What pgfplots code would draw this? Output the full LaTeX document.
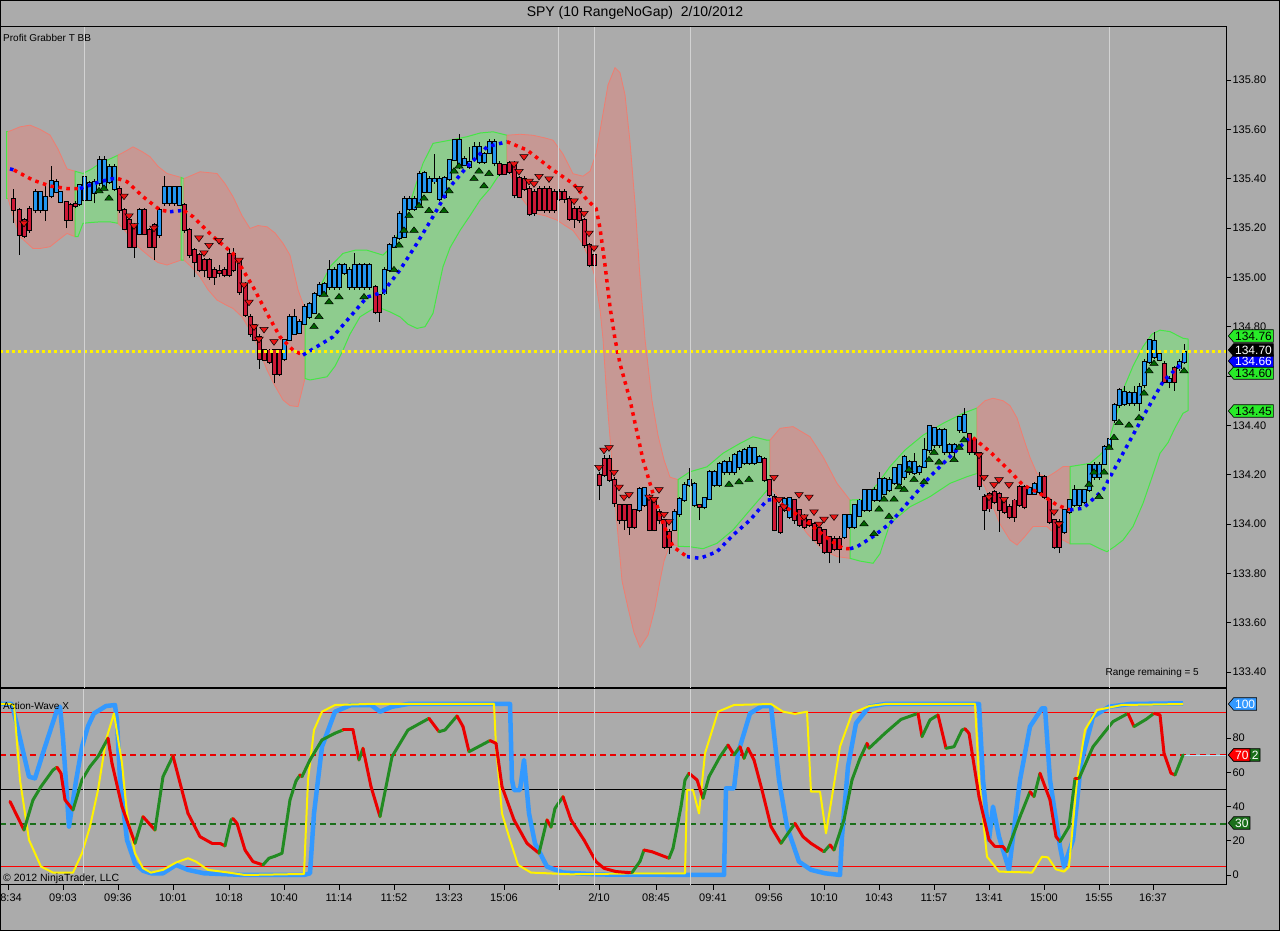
\documentclass[border=0pt]{standalone}
\usepackage{pgfplots}
\pgfplotsset{compat=1.18}
\usepackage{pgfplotstable}
\usepackage{fontspec}
\setmainfont{Liberation Sans}
\usetikzlibrary{shapes.symbols}

\definecolor{bg}{RGB}{171,171,171}
\definecolor{cblue}{RGB}{35,150,240}
\definecolor{cred}{RGB}{205,25,55}
\definecolor{bandR}{RGB}{198,152,148}
\definecolor{bandRe}{RGB}{240,125,112}
\definecolor{bandG}{RGB}{142,204,142}
\definecolor{bandGe}{RGB}{70,230,70}
\definecolor{tgreen}{RGB}{0,100,0}
\definecolor{tred}{RGB}{235,20,20}
\definecolor{wblue}{RGB}{51,153,255}
\definecolor{wgreen}{RGB}{34,139,34}
\definecolor{wred}{RGB}{235,0,0}
\definecolor{gridc}{RGB}{210,210,210}
\definecolor{tagG}{RGB}{40,235,40}

\tikzset{
  tag/.style={signal, signal to=west, signal pointer angle=100, draw=black, line width=0.6pt,
    inner xsep=1.5pt, inner ysep=0.5pt, minimum height=12.5pt, font=\fontsize{12}{13}\selectfont, anchor=west},
}

% x o h l c u  (u=1 up/blue, u=0 down/red)
\pgfplotstableread{
x o h l c u
13 135.320 135.36 135.22 135.273 0
19 135.273 135.28 135.09 135.171 0
24 135.232 135.24 135.16 135.171 0
29 135.279 135.29 135.18 135.192 0
35 135.273 135.36 135.26 135.347 1
40 135.273 135.35 135.26 135.347 1
45 135.273 135.37 135.23 135.327 1
51 135.333 135.45 135.32 135.394 1
56 135.347 135.40 135.34 135.388 1
60 135.306 135.35 135.30 135.347 1
66 135.306 135.31 135.20 135.232 0
70 135.293 135.30 135.23 135.232 0
75 135.300 135.31 135.28 135.290 0
79 135.300 135.38 135.29 135.374 1
84 135.313 135.42 135.30 135.408 1
89 135.313 135.39 135.31 135.381 1
94 135.340 135.40 135.30 135.388 1
99 135.381 135.49 135.37 135.475 1
104 135.367 135.49 135.36 135.475 1
109 135.388 135.46 135.38 135.448 1
114 135.360 135.46 135.35 135.448 1
119 135.360 135.37 135.26 135.273 0
124 135.273 135.28 135.19 135.198 0
129 135.232 135.24 135.12 135.124 0
134 135.212 135.22 135.08 135.124 0
139 135.178 135.28 135.17 135.273 1
144 135.273 135.28 135.17 135.178 0
149 135.192 135.20 135.12 135.124 0
154 135.212 135.22 135.07 135.124 0
159 135.171 135.28 135.16 135.273 1
164 135.300 135.41 135.29 135.367 1
169 135.300 135.37 135.29 135.367 1
174 135.300 135.37 135.29 135.367 1
179 135.293 135.37 135.29 135.367 1
184 135.293 135.30 135.18 135.192 0
189 135.192 135.20 135.08 135.090 0
194 135.111 135.12 135.00 135.063 0
199 135.090 135.10 135.02 135.030 0
204 135.070 135.08 135.00 135.030 0
209 135.070 135.08 134.99 135.002 0
214 135.030 135.04 134.97 135.002 0
219 135.028 135.05 135.00 135.018 0
224 135.030 135.04 135.00 135.009 0
229 135.097 135.12 135.00 135.009 0
233 135.097 135.12 135.02 135.030 0
239 135.077 135.08 134.93 134.942 0
245 134.975 134.98 134.84 134.847 0
250 134.840 134.85 134.76 134.773 0
254 134.806 134.81 134.74 134.746 0
259 134.759 134.77 134.63 134.671 0
264 134.705 134.71 134.66 134.665 0
269 134.705 134.71 134.65 134.658 0
274 134.705 134.71 134.57 134.611 0
279 134.705 134.71 134.60 134.611 0
284 134.671 134.75 134.66 134.746 1
289 134.746 134.85 134.74 134.840 1
294 134.773 134.87 134.77 134.840 1
299 134.773 134.83 134.77 134.820 1
304 134.813 134.89 134.81 134.881 1
309 134.840 134.90 134.83 134.890 1
314 134.854 134.94 134.85 134.935 1
319 134.928 134.98 134.92 134.969 1
324 134.935 134.98 134.93 134.975 1
329 134.962 135.07 134.95 135.030 1
334 134.962 135.04 134.95 135.030 1
339 134.962 135.06 134.95 135.050 1
344 135.016 135.06 135.01 135.050 1
349 134.962 135.04 134.95 135.030 1
354 134.962 135.10 134.95 135.050 1
359 134.962 135.06 134.95 135.050 1
364 134.962 135.06 134.95 135.050 1
369 134.962 135.06 134.95 135.050 1
375 134.962 134.97 134.85 134.861 0
379 134.928 134.93 134.82 134.861 0
384 134.935 135.04 134.93 135.030 1
389 135.030 135.14 135.02 135.131 1
394 135.124 135.17 135.12 135.158 1
399 135.158 135.27 135.15 135.259 1
404 135.165 135.33 135.16 135.320 1
409 135.279 135.33 135.27 135.320 1
414 135.279 135.33 135.27 135.320 1
419 135.300 135.43 135.29 135.421 1
424 135.347 135.43 135.34 135.421 1
429 135.347 135.41 135.34 135.401 1
434 135.390 135.50 135.38 135.401 1
439 135.320 135.41 135.31 135.401 1
444 135.327 135.41 135.32 135.401 1
449 135.401 135.48 135.39 135.475 1
454 135.475 135.56 135.47 135.556 1
459 135.448 135.58 135.44 135.556 1
464 135.455 135.49 135.45 135.482 1
469 135.448 135.53 135.44 135.469 1
474 135.482 135.55 135.47 135.529 1
479 135.469 135.55 135.46 135.529 1
484 135.469 135.51 135.46 135.502 1
489 135.502 135.56 135.50 135.550 1
494 135.462 135.56 135.45 135.550 1
499 135.462 135.47 135.41 135.421 0
504 135.455 135.46 135.42 135.421 0
509 135.462 135.47 135.42 135.428 0
514 135.462 135.47 135.32 135.333 0
519 135.401 135.41 135.32 135.327 0
524 135.401 135.41 135.35 135.360 0
529 135.360 135.37 135.25 135.259 0
534 135.347 135.36 135.25 135.259 0
539 135.360 135.37 135.27 135.273 0
544 135.360 135.37 135.26 135.273 0
549 135.360 135.37 135.26 135.273 0
554 135.347 135.36 135.26 135.273 0
559 135.347 135.36 135.31 135.320 0
564 135.347 135.36 135.30 135.320 0
569 135.320 135.33 135.23 135.239 0
574 135.279 135.29 135.20 135.239 0
579 135.279 135.29 135.22 135.232 0
584 135.232 135.24 135.12 135.131 0
589 135.131 135.14 135.04 135.050 0
594 135.090 135.10 135.02 135.050 0
599 134.199 134.21 134.097 134.158 0
604 134.266 134.28 134.19 134.199 0
609 134.266 134.28 134.17 134.178 0
614 134.178 134.19 134.07 134.084 0
619 134.077 134.08 134.00 134.016 0
624 134.077 134.08 133.976 134.016 0
629 134.077 134.08 133.955 133.989 0
634 134.057 134.06 133.98 133.989 0
639 134.057 134.15 134.05 134.145 1
644 134.077 134.15 134.07 134.145 1
649 134.111 134.12 133.97 133.976 0
654 134.097 134.10 133.97 133.976 0
659 134.050 134.06 134.00 134.016 0
664 134.016 134.02 133.90 133.908 0
669 133.969 133.98 133.88 133.908 0
674 133.976 134.06 133.97 134.050 1
679 134.043 134.11 134.03 134.104 1
684 134.097 134.17 134.09 134.158 1
689 134.158 134.226 134.15 134.178 1
694 134.077 134.17 134.07 134.165 1
699 134.077 134.08 134.016 134.070 0
704 134.070 134.11 134.06 134.104 1
709 134.104 134.22 134.10 134.212 1
714 134.158 134.22 134.15 134.212 1
719 134.158 134.25 134.15 134.246 1
724 134.212 134.26 134.20 134.253 1
729 134.212 134.27 134.20 134.253 1
734 134.212 134.29 134.20 134.280 1
739 134.232 134.30 134.22 134.293 1
744 134.246 134.31 134.24 134.300 1
749 134.246 134.32 134.24 134.307 1
754 134.246 134.31 134.24 134.307 1
759 134.253 134.28 134.25 134.273 1
764 134.266 134.27 134.17 134.178 0
769 134.178 134.18 134.11 134.118 0
774 134.111 134.12 133.97 133.976 0
780 134.070 134.08 133.96 133.969 0
784 134.057 134.11 134.05 134.104 1
789 134.030 134.11 134.02 134.104 1
794 134.097 134.10 134.00 134.016 0
799 134.057 134.06 133.99 133.996 0
804 134.030 134.04 133.98 133.989 0
809 134.016 134.02 133.99 133.996 0
814 134.003 134.01 133.93 133.935 0
819 133.983 133.99 133.91 133.922 0
824 133.976 133.98 133.88 133.888 0
829 133.949 133.95 133.841 133.888 0
834 133.942 133.95 133.89 133.901 0
839 133.942 133.95 133.841 133.901 0
844 133.949 134.04 133.94 134.036 1
849 133.989 134.04 133.98 134.036 1
854 133.989 134.08 133.98 134.077 1
859 134.036 134.10 134.03 134.097 1
864 134.057 134.14 134.05 134.138 1
869 134.057 134.14 134.05 134.138 1
874 134.097 134.15 134.09 134.138 1
879 134.097 134.21 134.09 134.185 1
884 134.124 134.19 134.12 134.185 1
889 134.138 134.19 134.13 134.178 1
894 134.165 134.23 134.16 134.226 1
899 134.165 134.24 134.16 134.239 1
904 134.192 134.28 134.18 134.273 1
909 134.212 134.26 134.20 134.253 1
914 134.205 134.29 134.20 134.253 1
919 134.212 134.24 134.20 134.233 1
924 134.233 134.35 134.23 134.300 1
929 134.300 134.40 134.29 134.395 1
934 134.320 134.39 134.31 134.388 1
939 134.320 134.39 134.31 134.381 1
944 134.293 134.39 134.28 134.381 1
949 134.293 134.33 134.28 134.320 1
954 134.293 134.33 134.26 134.320 1
959 134.381 134.44 134.37 134.435 1
964 134.374 134.47 134.37 134.442 1
969 134.368 134.37 134.28 134.293 0
974 134.341 134.35 134.28 134.293 0
979 134.287 134.29 134.14 134.152 0
984 134.111 134.12 133.976 134.057 0
989 134.124 134.13 134.05 134.064 0
994 134.131 134.14 134.08 134.091 0
999 134.124 134.13 133.969 134.057 0
1004 134.097 134.10 134.04 134.050 0
1009 134.070 134.08 134.02 134.030 0
1014 134.097 134.10 134.01 134.030 0
1019 134.152 134.16 134.07 134.077 0
1024 134.152 134.16 134.06 134.070 0
1029 134.124 134.15 134.12 134.145 1
1034 134.124 134.17 134.12 134.165 1
1039 134.131 134.21 134.12 134.192 1
1044 134.192 134.20 134.10 134.111 0
1049 134.097 134.10 134.00 134.010 0
1054 134.016 134.02 133.90 133.908 0
1059 134.010 134.02 133.881 133.908 0
1064 133.969 134.06 133.96 134.057 1
1069 134.050 134.10 134.04 134.097 1
1074 134.077 134.16 134.07 134.138 1
1079 134.077 134.14 134.07 134.138 1
1084 134.091 134.14 134.08 134.138 1
1089 134.138 134.24 134.13 134.239 1
1094 134.192 134.25 134.18 134.239 1
1099 134.192 134.25 134.18 134.239 1
1104 134.246 134.32 134.24 134.314 1
1109 134.314 134.35 134.30 134.347 1
1114 134.422 134.49 134.41 134.482 1
1119 134.482 134.55 134.47 134.543 1
1124 134.489 134.56 134.48 134.536 1
1129 134.489 134.54 134.48 134.530 1
1134 134.489 134.56 134.48 134.530 1
1139 134.489 134.57 134.46 134.557 1
1144 134.563 134.67 134.55 134.658 1
1149 134.658 134.75 134.65 134.746 1
1154 134.678 134.78 134.67 134.746 1
1159 134.665 134.70 134.66 134.692 1
1164 134.651 134.66 134.57 134.577 0
1169 134.577 134.60 134.55 134.591 1
1174 134.631 134.64 134.54 134.577 0
1179 134.631 134.67 134.62 134.658 1
1184 134.658 134.73 134.65 134.699 1
}\candles

\pgfplotstableread{
x y
99 135.35
104 135.36
109 135.32
314 134.80
319 134.84
324 134.93
329 134.90
339 134.92
364 134.92
394 135.03
399 135.13
404 135.19
409 135.25
414 135.19
419 135.29
424 135.32
429 135.27
444 135.27
449 135.35
454 135.43
459 135.45
474 135.40
479 135.43
484 135.37
489 135.42
729 134.16
739 134.17
749 134.18
864 134.00
874 133.96
879 134.06
884 134.10
889 134.03
894 134.10
899 134.15
904 134.14
909 134.22
914 134.18
924 134.17
929 134.26
934 134.29
939 134.25
954 134.26
959 134.31
964 134.34
1089 134.16
1094 134.21
1099 134.11
1104 134.21
1109 134.31
1114 134.35
1119 134.41
1129 134.40
1139 134.43
1144 134.53
1149 134.62
1154 134.65
1184 134.62
}\gtri

\pgfplotstableread{
x y
24 135.22
124 135.33
129 135.25
134 135.21
154 135.20
199 135.16
204 135.10
209 135.13
219 135.15
239 135.07
244 134.97
249 134.90
254 134.80
259 134.75
264 134.79
274 134.74
514 135.46
519 135.43
524 135.49
529 135.39
534 135.38
539 135.41
549 135.40
574 135.31
579 135.36
584 135.26
589 135.18
594 135.12
599 134.23
604 134.30
609 134.31
614 134.21
619 134.15
624 134.11
629 134.12
649 134.11
654 134.10
659 134.14
664 134.04
669 134.01
774 134.19
779 134.10
784 134.07
799 134.12
804 134.03
809 134.11
814 134.05
819 134.00
824 134.02
834 134.03
979 134.28
984 134.19
989 134.11
994 134.16
999 134.18
1004 134.10
1009 134.16
1054 134.05
1059 134.00
}\rtri

\pgfplotstableread{
x y
0 100
12 100
20 80
29 57.5
35 56.5
45 75
57 96.5
60 98.4
63 80
69 28.3
71 36
76 55
82 75
88 87
94 94.5
106 98.8
115 99.4
117 90
120 55.6
127 20.5
135 6.8
143 2.5
151 1
163 1
176 5.9
188 3
204 1
245 0
304 0
310 1
314 36
322 75
335 95.5
351 99.4
371 99.4
380 95.5
392 98.4
408 100
510 100
512 55.6
514 49.7
520 49.7
524 67.3
529 36
535 18.5
547 4.9
563 1.4
600 0.3
724 0
726 50.7
734 50.7
738 71.2
750 94.5
762 98.8
771 98.8
779 55.6
787 28.3
799 7.8
811 3
825 1
840 0
842 22.4
848 63.4
856 88.7
869 98.4
885 100
979 100
983 55.6
989 20.5
993 40
999 22.4
1009 3
1020 55.6
1030 86.8
1042 97.5
1045 97.5
1050 55.6
1060 16.6
1064 4.9
1073 20.5
1081 65.3
1093 92.6
1109 98.4
1130 100
1183 100.4
}\wblueT

\pgfplotstableread{
x y
0 100
10 100
14 99.4
20 55.6
29 20.5
41 4.9
53 1.4
73 1.4
82 12.7
90 28.3
98 49.7
106 79
114 94.5
122 65.3
127 36
135 12.7
143 4
151 1.4
163 3
176 7.3
188 9.8
196 7.8
208 3
229 1.4
245 0
304 0.6
308 55.6
314 84.8
322 95.5
335 99.4
367 100
494 100
496 75
502 36
510 20.5
518 5.9
531 1.4
571 0.4
640 1
685 1
687 49.7
693 49.7
699 36
705 71.2
718 95.5
734 99.4
771 100
783 95.5
795 94.2
807 95.5
811 48.7
820 48.7
826 24.4
832 45.8
840 75
852 94.5
869 98.8
885 100
975 100
979 55.6
987 10.7
999 2
1032 1.4
1042 10.7
1048 10.3
1056 3.3
1064 2
1069 4.9
1077 55.6
1085 84.8
1097 96.5
1122 99.4
1183 100
}\wyelT

\pgfplotstableread{
x y m
10 43 1
24 26.3 1
24 26.3 0
33 43.9 0
41 51.7 0
53 61.4 0
57 63 0
57 63 1
61 59.5 1
65 43.9 1
73 38 1
73 38 0
82 55.6 0
90 63.4 0
98 69.2 0
108 80 0
108 80 1
112 65.3 1
122 40 1
135 18.5 1
135 18.5 0
143 34.1 0
143 34.1 1
155 26.3 1
155 26.3 0
163 57.5 0
173 69.6 0
173 69.6 1
188 36 1
200 22.4 1
212 18.5 1
220 18.5 1
225 17 1
225 17 0
231 32.2 0
233 33 0
233 33 1
237 30.2 1
245 14.6 1
253 7.8 1
263 5.9 1
263 5.9 0
269 9.8 0
275 11 0
282 12.7 0
290 43.9 0
296 55 0
300 58.5 0
300 58.5 1
302 57.5 1
302 57.5 0
310 67.3 0
322 79 0
335 82.9 0
343 84.8 0
343 84.8 1
353 84.8 1
359 67.3 1
359 67.3 0
363 74.1 0
363 74.1 1
371 51.7 1
380 34.1 1
380 34.1 0
392 69.2 0
408 84.8 0
429 91.6 0
429 91.6 1
439 83.8 1
439 83.8 0
445 84.8 0
457 93 0
457 93 1
463 86.8 1
469 72.1 1
469 72.1 0
490 78.6 0
490 78.6 1
496 77 1
502 51.7 1
514 32.2 1
527 18.5 1
539 12.7 1
539 12.7 0
547 32.2 0
547 32.2 1
551 28 1
551 28 0
555 39 0
563 45.8 0
563 45.8 1
571 32.2 1
584 20.5 1
596 7.8 1
604 3.9 1
616 2 1
629 1.4 1
632 1.4 1
632 1.4 0
640 8 0
644 14.6 0
644 14.6 1
652 13.6 1
669 9.8 1
669 9.8 0
673 15.6 0
681 40 0
685 55.6 0
689 59.5 0
689 59.5 1
697 55.6 1
703 44.8 1
703 44.8 0
709 57.5 0
720 69.2 0
728 76 0
728 76 1
734 70.2 1
734 70.2 0
740 75 0
740 75 1
744 68.2 1
744 68.2 0
748 74.1 0
748 74.1 1
754 67.3 1
762 49.7 1
771 28.3 1
781 18.5 1
781 18.5 0
795 30.2 0
795 30.2 1
803 22.4 1
811 18.5 1
824 13.6 1
824 13.6 0
830 17.6 0
830 17.6 1
834 14.6 1
834 14.6 0
844 32.2 0
852 55.6 0
860 68.2 0
867 77 0
867 77 1
869 74.1 1
869 74.1 0
885 82.9 0
901 91 0
918 94.5 0
918 94.5 1
922 80.9 1
922 80.9 0
930 90.7 0
938 93.6 0
938 93.6 1
946 74.1 1
946 74.1 0
954 75 0
962 84.8 0
965 85.5 0
965 85.5 1
969 82.9 1
979 45.8 1
989 20.5 1
995 16.6 1
1003 16.6 1
1007 13.6 1
1007 13.6 0
1020 34.1 0
1030 48.7 0
1030 48.7 1
1034 45.8 1
1034 45.8 0
1040 59.5 0
1040 59.5 1
1050 43.9 1
1056 22.4 1
1060 19.5 1
1060 19.5 0
1069 28.3 0
1075 56.5 0
1075 56.5 1
1079 56.5 1
1079 56.5 0
1093 75 0
1113 89.7 0
1128 94.5 0
1128 94.5 1
1134 86.8 1
1134 86.8 0
1146 91 0
1154 94.5 0
1154 94.5 1
1160 93.6 1
1164 71.2 1
1171 59.5 1
1175 58.5 1
1175 58.5 0
1183 70.2 0
}\wgrT

\begin{document}
\begin{tikzpicture}[x=1pt,y=1pt]
\fill[bg] (0,0) rectangle (1280,931);

%================ upper panel =================
\begin{axis}[
  at={(0pt,243pt)}, anchor=south west, width=1226pt, height=661pt, scale only axis,
  xmin=0, xmax=1226, ymin=133.3355, ymax=136.0148,
  axis background/.style={fill=bg},
  axis line style={black, line width=1pt},
  axis on top,
  xtick=\empty,
  extra x ticks={84,558,594,690,1109},
  extra x tick labels={},
  extra x tick style={grid=major, major tick length=0pt, major grid style={gridc, line width=1pt}},
  ytick={133.4,133.6,133.8,134.0,134.2,134.4,134.6,134.8,135.0,135.2,135.4,135.6,135.8},
  yticklabels={133.40,133.60,133.80,134.00,134.20,134.40,134.60,134.80,135.00,135.20,135.40,135.60,135.80},
  ytick pos=right, yticklabel pos=right, tick align=outside, major tick length=5pt,
  tick style={black, line width=0.8pt},
  yticklabel style={font=\fontsize{11}{12}\selectfont, xshift=-2pt},
]
% bands
\addplot[fill=bandG, draw=bandGe, line width=1pt] coordinates {(6,135.59) (8,135.59) (8,135.32) (6,135.32)} -- cycle;
\addplot[fill=bandR, draw=bandRe, line width=0.8pt] coordinates {
 (8,135.59) (20,135.61) (30,135.617) (40,135.60) (50,135.577) (58,135.52) (67,135.44) (75,135.43)
 (75,135.165) (67,135.178) (58,135.15) (50,135.124) (40,135.117) (33,135.117) (20,135.165) (13,135.25) (8,135.32)} -- cycle;
\addplot[fill=bandG, draw=bandGe, line width=1pt] coordinates {
 (75,135.43) (83,135.421) (92,135.44) (100,135.462) (110,135.48) (118,135.495)
 (118,135.219) (110,135.225) (100,135.225) (90,135.222) (83,135.219) (78,135.165) (75,135.165)} -- cycle;
\addplot[fill=bandR, draw=bandRe, line width=0.8pt] coordinates {
 (118,135.495) (125,135.51) (133,135.529) (142,135.51) (150,135.489) (158,135.45) (167,135.421) (181,135.405)
 (181,135.07) (167,135.05) (158,135.06) (150,135.083) (142,135.11) (133,135.144) (125,135.19) (118,135.219)} -- cycle;
\addplot[fill=bandG, draw=bandGe, line width=1pt] coordinates {(181,135.405) (184,135.40) (184,135.07) (181,135.07)} -- cycle;
\addplot[fill=bandR, draw=bandRe, line width=0.8pt] coordinates {
 (184,135.40) (200,135.428) (217,135.421) (225,135.38) (233,135.327) (242,135.25) (250,135.198) (258,135.21) (267,135.205) (275,135.18) (283,135.138) (290,135.09) (298,134.95) (305,134.87)
 (305,134.59) (298,134.476) (290,134.48) (283,134.503) (275,134.56) (267,134.624) (258,134.72) (250,134.786) (242,134.84) (233,134.874) (225,134.89) (217,134.908) (208,134.95) (200,135.002) (192,135.04) (184,135.07)} -- cycle;
\addplot[fill=bandG, draw=bandGe, line width=1pt] coordinates {
 (305,134.87) (310,134.867) (320,134.96) (330,135.043) (343,135.097) (355,135.11) (367,135.11) (383,135.09) (393,135.13) (400,135.20) (410,135.30) (417,135.39) (423,135.462) (433,135.543) (450,135.556) (467,135.57) (480,135.585) (493,135.59) (507,135.576)
 (507,135.455) (500,135.421) (490,135.36) (480,135.313) (470,135.25) (460,135.19) (450,135.12) (443,135.043) (438,134.95) (433,134.854) (425,134.80) (417,134.793) (408,134.81) (400,134.84) (390,134.86) (377,134.881) (368,134.86) (360,134.84) (350,134.77) (343,134.705) (335,134.64) (327,134.597) (318,134.59) (310,134.584) (305,134.59)} -- cycle;
\addplot[fill=bandR, draw=bandRe, line width=0.8pt] coordinates {
 (507,135.576) (520,135.58) (533,135.576) (545,135.565) (553,135.556) (563,135.50) (573,135.42) (583,135.41) (590,135.43) (596,135.50) (602,135.64) (608,135.78) (615,135.85) (620,135.83) (625,135.74) (630,135.55) (635,135.30) (640,135.00) (645,134.75) (652,134.50) (658,134.36) (664,134.26) (670,134.19) (678,134.18)
 (678,133.91) (670,133.92) (664,133.85) (660,133.77) (655,133.66) (648,133.55) (640,133.50) (634,133.56) (628,133.66) (622,133.77) (617,134.00) (612,134.25) (607,134.50) (603,134.75) (600,134.87) (595,135.00) (590,135.07) (582,135.14) (573,135.19) (565,135.21) (557,135.232) (545,135.25) (533,135.26) (520,135.33) (510,135.42) (507,135.455)} -- cycle;
\addplot[fill=bandG, draw=bandGe, line width=1pt] coordinates {
 (678,134.18) (690,134.212) (707,134.232) (723,134.287) (740,134.327) (753,134.354) (767,134.34) (770,134.34)
 (770,134.151) (763,134.118) (750,134.057) (733,133.976) (717,133.922) (703,133.90) (690,133.908) (678,133.91)} -- cycle;
\addplot[fill=bandR, draw=bandRe, line width=0.8pt] coordinates {
 (770,134.34) (780,134.388) (793,134.395) (810,134.354) (823,134.273) (837,134.165) (850,134.097)
 (850,133.861) (837,133.868) (823,133.895) (807,133.962) (790,134.057) (770,134.151)} -- cycle;
\addplot[fill=bandG, draw=bandGe, line width=1pt] coordinates {
 (850,134.097) (863,134.10) (877,134.16) (890,134.233) (905,134.30) (923,134.36) (943,134.408) (963,134.449) (977,134.47)
 (977,134.205) (967,134.192) (950,134.165) (930,134.111) (910,134.07) (890,134.003) (880,133.88) (873,133.841) (860,133.85) (850,133.861)} -- cycle;
\addplot[fill=bandR, draw=bandRe, line width=0.8pt] coordinates {
 (977,134.47) (985,134.50) (993,134.51) (1003,134.50) (1010,134.48) (1017,134.43) (1023,134.354) (1030,134.27) (1037,134.205) (1047,134.19) (1055,134.21) (1063,134.233) (1070,134.233)
 (1070,133.92) (1063,133.935) (1055,133.96) (1047,133.99) (1040,133.99) (1033,133.99) (1025,133.95) (1017,133.915) (1010,133.935) (1000,134.00) (993,134.07) (985,134.15) (977,134.205)} -- cycle;
\addplot[fill=bandG, draw=bandGe, line width=1pt] coordinates {
 (1070,134.233) (1090,134.246) (1100,134.28) (1107,134.313) (1115,134.42) (1123,134.543) (1133,134.64) (1143,134.719) (1152,134.77) (1160,134.786) (1170,134.78) (1183,134.753) (1188,134.75)
 (1188,134.46) (1183,134.449) (1175,134.39) (1168,134.33) (1160,134.287) (1152,134.19) (1143,134.084) (1133,133.99) (1123,133.935) (1115,133.91) (1107,133.888) (1100,133.90) (1090,133.92) (1070,133.92)} -- cycle;

% candles: wicks
\addplot[draw=none, mark=none, forget plot,
  error bars/.cd, y dir=plus, y explicit, error mark=none,
  error bar style={line width=1pt, draw=black}]
  table[x=x, y=l, y error expr={\thisrow{h}-\thisrow{l}}] {\candles};
% candles: body outline
\addplot[draw=none, mark=none, forget plot,
  error bars/.cd, y dir=both, y explicit, error mark=none,
  error bar style={line width=5pt, draw=black}]
  table[x=x, y expr={(\thisrow{o}+\thisrow{c})/2}, y error expr={abs(\thisrow{c}-\thisrow{o})/2+0.004}] {\candles};
% candles: up bodies (zero length for down candles)
\addplot[draw=none, mark=none, forget plot,
  error bars/.cd, y dir=both, y explicit, error mark=none,
  error bar style={line width=3pt, draw=cblue, line cap=butt}]
  table[x=x, y expr={(\thisrow{o}+\thisrow{c})/2}, y error expr={\thisrow{u}*abs(\thisrow{c}-\thisrow{o})/2}] {\candles};
% candles: down bodies (zero length for up candles)
\addplot[draw=none, mark=none, forget plot,
  error bars/.cd, y dir=both, y explicit, error mark=none,
  error bar style={line width=3pt, draw=cred, line cap=butt}]
  table[x=x, y expr={(\thisrow{o}+\thisrow{c})/2}, y error expr={(1-\thisrow{u})*abs(\thisrow{c}-\thisrow{o})/2}] {\candles};

% midline dotted
\pgfplotsset{mdot/.style={line width=3.5pt, dash pattern=on 3.5pt off 4.5pt}}
\addplot[mdot, blue] coordinates {(10,135.44) (14,135.435)};
\addplot[mdot, red] coordinates {(14,135.435) (33,135.394) (50,135.37) (67,135.36) (80,135.36)};
\addplot[mdot, blue] coordinates {(80,135.36) (100,135.388) (113,135.40) (118,135.40)};
\addplot[mdot, red] coordinates {(118,135.40) (127,135.388) (143,135.327) (160,135.273) (170,135.266)};
\addplot[mdot, blue] coordinates {(170,135.266) (180,135.27) (184,135.27)};
\addplot[mdot, red] coordinates {(184,135.27) (193,135.246) (213,135.165) (233,135.097) (253,134.962) (267,134.854) (280,134.759) (293,134.705) (303,134.685)};
\addplot[mdot, blue] coordinates {(303,134.685) (333,134.759) (367,134.92) (383,134.94) (400,135.03) (417,135.138) (433,135.246) (450,135.367) (467,135.448) (487,135.529) (507,135.55)};
\addplot[mdot, red] coordinates {(507,135.55) (527,135.516) (553,135.435) (573,135.38) (588,135.31) (596,135.28) (600,135.20) (605,135.05) (610,134.88) (615,134.75) (620,134.65) (630,134.503) (643,134.26) (653,134.124) (663,134.003) (673,133.908) (687,133.868)};
\addplot[mdot, blue] coordinates {(687,133.868) (700,133.861) (717,133.888) (733,133.955) (750,134.016) (767,134.097) (774,134.10)};
\addplot[mdot, red] coordinates {(774,134.10) (790,134.057) (803,134.023) (817,133.976) (830,133.935) (843,133.901) (850,133.90)};
\addplot[mdot, blue] coordinates {(850,133.90) (857,133.908) (873,133.949) (890,134.003) (910,134.097) (930,134.192) (950,134.273) (967,134.341) (973,134.35)};
\addplot[mdot, red] coordinates {(973,134.35) (990,134.293) (1007,134.226) (1023,134.158) (1040,134.124) (1057,134.077) (1070,134.057)};
\addplot[mdot, blue] coordinates {(1070,134.057) (1083,134.064) (1103,134.138) (1123,134.287) (1143,134.435) (1163,134.577) (1183,134.658)};

% triangles
\addplot[only marks, mark=triangle*, mark size=3.6pt, mark options={xscale=1.35, fill=tgreen, draw=black, line width=0.5pt}] table {\gtri};
\addplot[only marks, mark=triangle*, mark size=3.8pt, mark options={rotate=180, xscale=1.3, fill=tred, draw=black, line width=0.5pt}] table {\rtri};

% yellow level line
\addplot[yellow, line width=3pt, dash pattern=on 3pt off 3pt] coordinates {(0,134.70) (1226,134.70)};
\end{axis}

%================ lower panel =================
\begin{axis}[
  at={(0pt,46pt)}, anchor=south west, width=1226pt, height=196pt, scale only axis,
  xmin=0, xmax=1226, ymin=-5.85, ymax=108.77,
  axis background/.style={fill=bg},
  axis line style={black, line width=1pt},
  axis on top,
  xtick={8,63,118,173,229,284,339,394,449,504,559,599,656,713,769,824,879,934,989,1044,1099,1153},
  xticklabels={08:34,09:03,09:36,10:01,10:18,10:40,11:14,11:52,13:23,15:06,,2/10,08:45,09:41,09:56,10:10,10:43,11:57,13:41,15:00,15:55,16:37},
  xtick pos=bottom, xticklabel style={font=\fontsize{11}{12}\selectfont},
  extra x ticks={84,558,594,690,1109},
  extra x tick labels={},
  extra x tick style={grid=major, major tick length=0pt, major grid style={gridc, line width=1pt}},
  ytick={0,20,40,60,80}, yticklabels={0,20,40,60,80},
  ytick pos=right, yticklabel pos=right, tick align=outside, major tick length=5pt,
  tick style={black, line width=0.8pt},
  yticklabel style={font=\fontsize{11}{12}\selectfont, xshift=-2pt},
  colormap={gro}{rgb255=(34,139,34) rgb255=(255,170,0) rgb255=(235,0,0)},
  point meta min=0, point meta max=1,
]
\addplot[red, line width=1pt] coordinates {(0,95) (1226,95)};
\addplot[red, line width=1pt] coordinates {(0,5) (1226,5)};
\addplot[black, line width=1pt] coordinates {(0,50) (1226,50)};
\addplot[wred, line width=2pt, dash pattern=on 6pt off 4pt] coordinates {(0,70) (1226,70)};
\addplot[wgreen!80!black, line width=2pt, dash pattern=on 6pt off 4pt] coordinates {(0,30) (1226,30)};
\addplot[cyan!30!white, line width=0.8pt] coordinates {(1183,70.2) (1226,70.2)};
\addplot[wblue, line width=4.5pt, line join=round] table {\wblueT};
\addplot[yellow, line width=2pt, line join=round] table {\wyelT};
\addplot[mesh, shader=flat mean, line width=3pt, line cap=round, point meta=explicit] table[x=x, y=y, meta=m] {\wgrT};
\end{axis}

% texts
\node[font=\fontsize{14}{16}\selectfont] at (635,918) {SPY (10 RangeNoGap)\ \ 2/10/2012};
\node[anchor=west, font=\fontsize{10}{12}\selectfont, inner sep=0pt] at (3,893) {Profit Grabber T BB};
\node[anchor=east, font=\fontsize{10}{12}\selectfont, inner sep=0pt] at (1199,258) {Range remaining = 5};
\node[anchor=west, font=\fontsize{10}{12}\selectfont, inner sep=0pt] at (3,225) {Action-Wave X};
\node[anchor=west, font=\fontsize{10.5}{12}\selectfont, inner sep=0pt] at (3,52) {\textcopyright\ 2012 NinjaTrader, LLC};

% price tags
\node[tag, fill=tagG] at (1228,595) {134.76};
\node[tag, fill=tagG] at (1228,558) {134.60};
\node[tag, fill=blue, text=white] at (1228,570) {134.66};
\node[tag, fill=black, text=white] at (1228,581) {134.70};
\node[tag, fill=tagG] at (1228,520) {134.45};
\node[tag, fill=wblue, text=white] at (1228,227) {100};
\node[tag, fill=wgreen!80!black, text=white] at (1228,176) {70.2};
\node[tag, fill=red, text=white] at (1228,176) {70};
\node[tag, fill=wgreen!80!black, text=white] at (1228,108) {30};

\draw[black, line width=1pt] (0.5,0.5) rectangle (1279.5,930.5);
\pgfresetboundingbox
\useasboundingbox (0,0) rectangle (1280,931);
\end{tikzpicture}
\end{document}
